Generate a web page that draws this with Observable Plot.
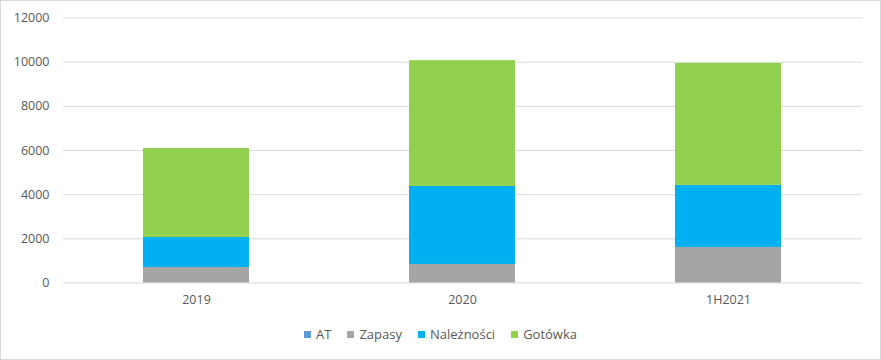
<!DOCTYPE html>
<html>
<head>
<meta charset="utf-8">
<script src="https://cdn.jsdelivr.net/npm/d3@7"></script>
<script src="https://cdn.jsdelivr.net/npm/@observablehq/plot@0.6"></script>
<style>
  html, body { margin: 0; padding: 0; background: #fff; }
  #wrap { position: relative; width: 881px; height: 360px; overflow: hidden; font-family: "Open Sans", "Liberation Sans", sans-serif; }
  #frame { position: absolute; left: 0; top: 0; width: 879px; height: 358px; border: 1px solid #d9d9d9; pointer-events: none; }
  #chart { position: absolute; left: 0; top: 0; }
  #legend { position: absolute; left: 0; width: 881px; top: 325px; display: flex; justify-content: center; gap: 16px; font-size: 13px; color: #595959; line-height: 18px; }
  .item { display: flex; align-items: center; gap: 5px; }
  .sw { width: 7px; height: 7px; display: inline-block; }
</style>
</head>
<body>
<div id="wrap">
  <div id="chart"></div>
  <div id="legend"></div>
  <div id="frame"></div>
</div>
<script>
const categories = ["2019", "2020", "1H2021"];
const seriesNames = ["AT", "Zapasy", "Należności", "Gotówka"];
const seriesColors = ["#5b9bd5", "#a5a5a5", "#00b0f0", "#92d050"];
const AT = [0, 0, 0];
const Zapasy = [700, 840, 1610];
const Naleznosci = [1360, 3530, 2810];
const Gotowka = [4030, 5700, 5525];
const yTicks = [0, 2000, 4000, 6000, 8000, 10000, 12000];

const seriesValues = [AT, Zapasy, Naleznosci, Gotowka];
const rows = [];
categories.forEach((c, i) => {
  seriesNames.forEach((s, j) => {
    rows.push({category: c, series: s, value: seriesValues[j][i], order: j});
  });
});

const chart = Plot.plot({
  width: 881,
  height: 312,
  marginLeft: 63,
  marginRight: 19,
  marginTop: 17.5,
  marginBottom: 29.5,
  style: { fontFamily: "'Open Sans', 'Liberation Sans', sans-serif", fontSize: "12.5px", color: "#595959", background: "transparent" },
  x: { domain: categories, paddingInner: 0.6, paddingOuter: 0.3, label: null },
  y: { domain: [0, 12000], label: null },
  color: { domain: seriesNames, range: seriesColors },
  marks: [
    Plot.gridY(yTicks, { stroke: "#d9d9d9", strokeOpacity: 1 }),
    Plot.barY(rows, { x: "category", y: "value", fill: "series", order: seriesNames, inset: 0 }),
    Plot.axisY(yTicks, { tickSize: 0, tickPadding: 14, tickFormat: d => String(d), label: null, fill: "#595959" }),
    Plot.axisX({ tickSize: 0, tickPadding: 12, label: null, fill: "#595959" })
  ]
});
document.getElementById("chart").appendChild(chart);

const legend = document.getElementById("legend");
seriesNames.forEach((s, j) => {
  const it = document.createElement("div");
  it.className = "item";
  const sw = document.createElement("span");
  sw.className = "sw";
  sw.style.background = seriesColors[j];
  const t = document.createElement("span");
  t.textContent = s;
  it.appendChild(sw);
  it.appendChild(t);
  legend.appendChild(it);
});
</script>
</body>
</html>
